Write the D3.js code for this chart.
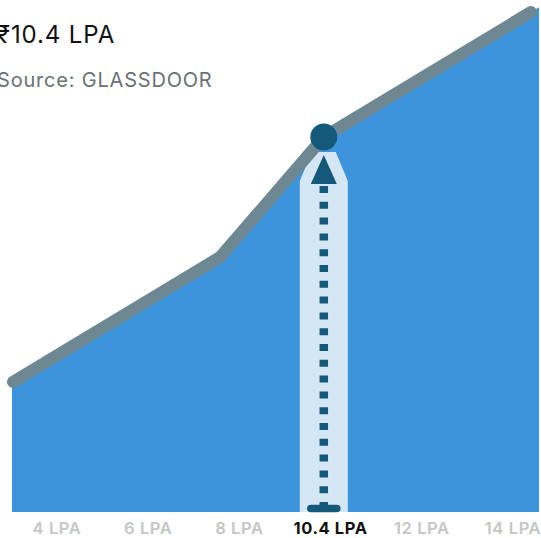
<!DOCTYPE html>
<html>
<head>
<meta charset="utf-8">
<script src="https://cdn.jsdelivr.net/npm/d3@7"></script>
<style>
  html, body { margin: 0; padding: 0; background: #fff; overflow: hidden; }
  text { font-family: Inter, "Noto Sans", sans-serif; }
</style>
</head>
<body>
<svg id="chart"></svg>
<script>
// salary (LPA) at each bend of the curve, and the share of roles at or below it (%)
const salaries = [5, 8.6, 10.4, 14];
const shares = [26, 51, 75, 100];
const tickLabels = ["4 LPA", "6 LPA", "8 LPA", "10.4 LPA", "12 LPA", "14 LPA"];
const highlightSalary = 10.4;
const highlightLabel = "10.4 LPA";
const title = "\u20B910.4 LPA";
const subtitle = "Source: GLASSDOOR";

const width = 541, height = 538;
const plot = { left: 12, right: 539, top: 12, bottom: 512 };

const svg = d3.select("#chart").attr("width", width).attr("height", height);

const xScale = d3.scaleLinear().domain([5, 14]).range([13, 531]);
const yScale = d3.scaleLinear().domain([0, 100]).range([plot.bottom, plot.top]);
const labelScale = d3.scalePoint().domain(tickLabels).range([57, 513]);

const points = salaries.map((s, i) => [xScale(s), yScale(shares[i])]);

// area runs out to the edges of the plot, following the end slopes
const first = points[0], second = points[1];
const last = points[points.length - 1], prev = points[points.length - 2];
const slopeR = (last[1] - prev[1]) / (last[0] - prev[0]);
const areaPts = [
  [plot.left, first[1] + (plot.left - first[0]) * (second[1] - first[1]) / (second[0] - first[0])],
  ...points,
  [plot.right, last[1] + (plot.right - last[0]) * slopeR]
];

svg.append("path")
  .datum(areaPts)
  .attr("fill", "#3c95dc")
  .attr("d", d3.area().x(d => d[0]).y0(plot.bottom).y1(d => d[1]));

// highlight band under the chosen salary
const cx = xScale(highlightSalary);
const cy = yScale(shares[salaries.indexOf(highlightSalary)]);
const bandW = 24;
svg.append("path")
  .attr("fill", "#d5e7f5")
  .attr("d", d3.line()([
    [cx - bandW, plot.bottom], [cx - bandW, cy + 44], [cx - 12, cy + 15],
    [cx + 12, cy + 15], [cx + bandW, cy + 44], [cx + bandW, plot.bottom]
  ]));

svg.append("path")
  .datum(points)
  .attr("fill", "none")
  .attr("stroke", "#6e8893")
  .attr("stroke-width", 12)
  .attr("stroke-linecap", "round")
  .attr("stroke-linejoin", "round")
  .attr("d", d3.line());

const dark = "#14597a";

// dotted arrow
svg.append("line")
  .attr("x1", cx).attr("x2", cx)
  .attr("y1", cy + 49).attr("y2", plot.bottom)
  .attr("stroke", dark)
  .attr("stroke-width", 8.5)
  .attr("stroke-dasharray", "7 8.8");

svg.append("path")
  .attr("fill", dark)
  .attr("d", d3.line()([[cx, cy + 18], [cx - 13, cy + 47], [cx + 13, cy + 47]]) + "Z");

svg.append("line")
  .attr("x1", cx - 13).attr("x2", cx + 13)
  .attr("y1", plot.bottom - 3.5).attr("y2", plot.bottom - 3.5)
  .attr("stroke", dark)
  .attr("stroke-width", 7.5)
  .attr("stroke-linecap", "round");

svg.append("circle")
  .attr("cx", cx).attr("cy", cy)
  .attr("r", 13.5)
  .attr("fill", dark);

// tick labels
svg.append("g")
  .selectAll("text")
  .data(tickLabels)
  .join("text")
  .attr("x", d => labelScale(d))
  .attr("y", 533.5)
  .attr("text-anchor", "middle")
  .attr("font-size", "16.5px")
  .attr("letter-spacing", "0.6px")
  .attr("font-weight", d => d === highlightLabel ? 700 : 600)
  .attr("fill", d => d === highlightLabel ? "#111" : "#c6c6c6")
  .text(d => d);

svg.append("text")
  .attr("x", -3)
  .attr("y", 42.5)
  .attr("font-size", "24px")
  .attr("letter-spacing", "0.9px")
  .attr("fill", "#111")
  .text(title);

svg.append("text")
  .attr("x", -3)
  .attr("y", 87)
  .attr("font-size", "20px")
  .attr("letter-spacing", "0.8px")
  .attr("fill", "#6b7074")
  .text(subtitle);
</script>
</body>
</html>
